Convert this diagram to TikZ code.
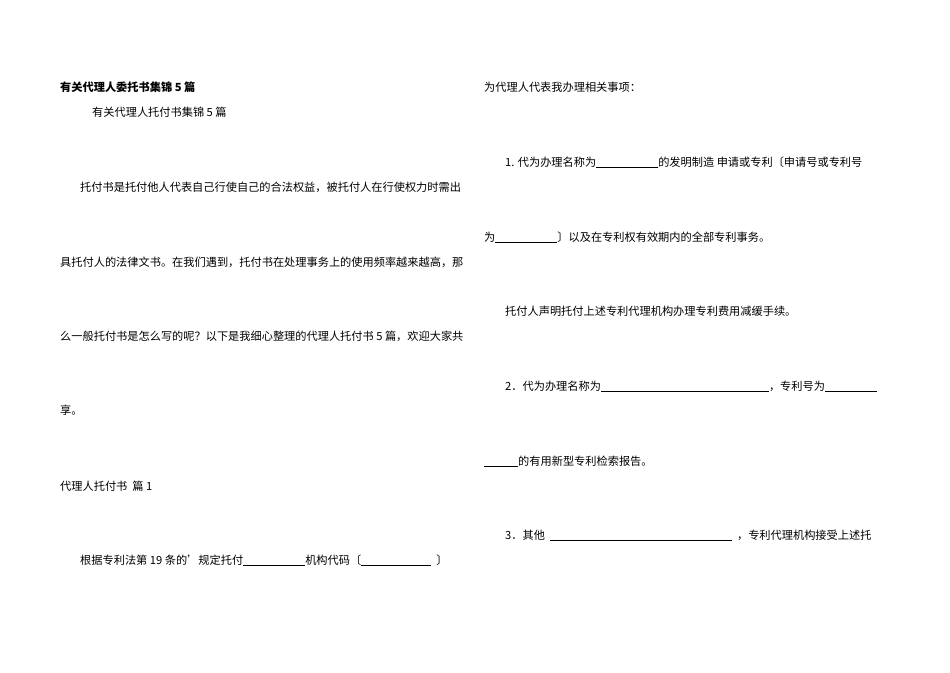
\documentclass[tikz,border=0pt]{standalone}
\usepackage{fontspec}
\setmainfont{Liberation Serif}
\newfontfamily\cjk{Noto Sans CJK SC}
\newcommand{\blank}[1]{\rule[-1.5pt]{#1pt}{0.4pt}}
\begin{document}
\begin{tikzpicture}[x=1pt,y=-1pt,every node/.style={anchor=base west,inner sep=0,font=\cjk\fontsize{11.2}{13}\selectfont}]
\useasboundingbox (0,0) rectangle (950,672);
\fill[white] (0,0) rectangle (950,672);
\node (t1) at (60,91) {\bfseries 有关代理人委托书集锦 5 篇};
\node (t2) at (92,116) {有关代理人托付书集锦 5 篇};
\node (p1) at (80,191) {托付书是托付他人代表自己行使自己的合法权益，被托付人在行使权力时需出};
\node (p2) at (60,266) {具托付人的法律文书。在我们遇到，托付书在处理事务上的使用频率越来越高，那};
\node (p3) at (60,340) {么一般托付书是怎么写的呢？以下是我细心整理的代理人托付书 5 篇，欢迎大家共};
\node (p4) at (60,414) {享。};
\node (p5) at (60,490) {代理人托付书\ \ 篇 1};
\node (p6) at (80,564) {根据专利法第 19 条的’规定托付\blank{62}机构代码〔\blank{70}\ \ 〕};
\node (r1) at (484,91) {为代理人代表我办理相关事项：};
\node (r2) at (505,166) {1. 代为办理名称为\blank{62}的发明制造\ 申请或专利〔申请号或专利号};
\node (r3) at (484,241) {为\blank{62}〕以及在专利权有效期内的全部专利事务。};
\node (r4) at (505,315) {托付人声明托付上述专利代理机构办理专利费用减缓手续。};
\node (r5) at (505,390) {2．代为办理名称为\blank{168}，专利号为\blank{52}};
\node (r6) at (484,465) {\blank{34}的有用新型专利检索报告。};
\node (r7) at (505,539) {3．其他\ \ \blank{182}\ \ ，专利代理机构接受上述托};
\end{tikzpicture}
\end{document}
